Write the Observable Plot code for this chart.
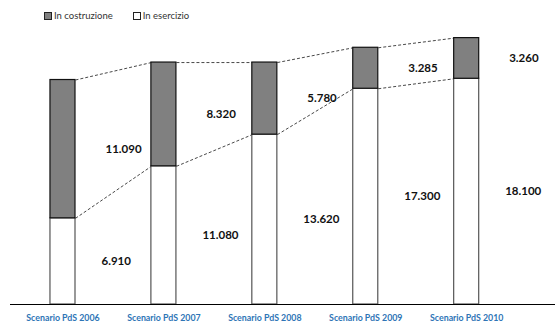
<!DOCTYPE html>
<html>
<head>
<meta charset="utf-8">
<script src="https://cdn.jsdelivr.net/npm/d3@7"></script>
<script src="https://cdn.jsdelivr.net/npm/@observablehq/plot@0.6"></script>
<style>
  body { margin: 0; background: #fff; font-family: Lato, "Open Sans", sans-serif; }
  #legend { height: 28px; box-sizing: border-box; padding: 11px 0 0 44px; font-size: 9.5px; color: #333; line-height: 10px; }
  #legend span.item { display: inline-flex; align-items: center; margin-right: 20px; }
  #legend span.sw { display: inline-block; width: 6px; height: 6px; border: 1px solid #222; margin-right: 2px; }
</style>
</head>
<body>
<div id="legend"></div>
<div id="chart"></div>
<script>
const categories = ["Scenario PdS 2006", "Scenario PdS 2007", "Scenario PdS 2008", "Scenario PdS 2009", "Scenario PdS 2010"];
const inEsercizio = [6910, 11080, 13620, 17300, 18100];
const inCostruzione = [11090, 8320, 5780, 3285, 3260];
const seriesNames = ["In costruzione", "In esercizio"];
const seriesColors = ["#808080", "#ffffff"];

const fmt = d3.formatLocale({decimal: ",", thousands: ".", grouping: [3], currency: ["€", ""]}).format(",d");

// legend
const legend = document.getElementById("legend");
seriesNames.forEach((n, k) => {
  const it = document.createElement("span");
  it.className = "item";
  const sw = document.createElement("span");
  sw.className = "sw";
  sw.style.background = seriesColors[k];
  it.appendChild(sw);
  it.appendChild(document.createTextNode(n));
  legend.appendChild(it);
});

const rows = categories.map((c, i) => ({
  i, c, es: inEsercizio[i], co: inCostruzione[i], tot: inEsercizio[i] + inCostruzione[i]
}));
const hw = 0.124; // half bar width in category steps
const links = rows.slice(0, -1).map((r, k) => ({a: r, b: rows[k + 1]}));

const plot = Plot.plot({
  width: 555,
  height: 297,
  marginLeft: 10,
  marginRight: 0,
  marginTop: 0,
  marginBottom: 21,
  x: {type: "linear", domain: [-0.52, 4.88], axis: null},
  y: {domain: [0, 22130], axis: null},
  style: {fontFamily: "Lato, 'Open Sans', sans-serif", background: "#fff"},
  marks: [
    Plot.link(links, {x1: d => d.a.i + hw, x2: d => d.b.i - hw, y1: d => d.a.tot, y2: d => d.b.tot,
      stroke: "#333", strokeWidth: 0.9, strokeDasharray: "3,2"}),
    Plot.link(links, {x1: d => d.a.i + hw, x2: d => d.b.i - hw, y1: d => d.a.es, y2: d => d.b.es,
      stroke: "#333", strokeWidth: 0.9, strokeDasharray: "3,2"}),
    Plot.rectY(rows, {x1: d => d.i - hw, x2: d => d.i + hw, y1: 0, y2: d => d.es,
      fill: seriesColors[1], stroke: "#555", strokeWidth: 1.2}),
    Plot.rectY(rows, {x1: d => d.i - hw, x2: d => d.i + hw, y1: d => d.es, y2: d => d.tot,
      fill: seriesColors[0], stroke: "#111", strokeWidth: 1.2}),
    Plot.ruleY([0], {stroke: "#000", strokeWidth: 1}),
    Plot.text(rows, {x: d => d.i + hw, y: d => d.es / 2, text: d => fmt(d.es), dx: 26,
      textAnchor: "start", fontSize: 11.5, fontWeight: "bold", fill: "#111"}),
    Plot.text(rows, {x: d => d.i + hw, y: d => d.es + d.co / 2, text: d => fmt(d.co), dx: 30,
      textAnchor: "start", fontSize: 11.5, fontWeight: "bold", fill: "#111"}),
    Plot.text(rows, {x: d => d.i, frameAnchor: "bottom", dy: 16, text: d => d.c,
      fontSize: 8.8, fontWeight: "bold", fill: "#2E75B6"})
  ]
});
document.getElementById("chart").appendChild(plot);
</script>
</body>
</html>
